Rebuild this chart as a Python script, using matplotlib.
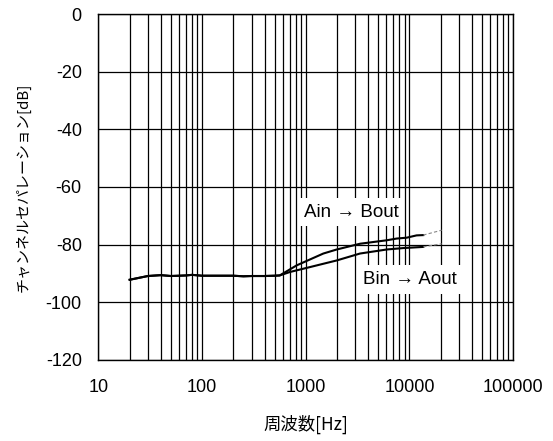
import numpy as np
import matplotlib
matplotlib.use("Agg")
import matplotlib.pyplot as plt
from matplotlib.ticker import LogLocator, NullFormatter, FixedLocator

plt.rcParams['font.family'] = ['Liberation Sans', 'Noto Sans CJK JP', 'DejaVu Sans']

# common flat part (both channels overlap)
freq_low = [20, 30, 40, 50, 60, 70, 80, 100, 150, 200, 250, 300, 400, 500, 560]
db_low = [-92.2, -90.9, -90.6, -90.9, -90.8, -90.7, -90.5, -90.8, -90.8, -90.8, -91.0, -90.9, -90.9, -90.8, -90.7]

# Ain -> Bout
freq_ab = [817, 1475, 1985, 3330, 6020, 7520, 9390, 11700, 13570]
db_ab = [-87.2, -83.1, -81.7, -79.7, -78.5, -77.9, -77.6, -76.8, -76.7]
freq_ab_ext = [13570, 20400]
db_ab_ext = [-76.7, -75.0]

# Bin -> Aout
freq_ba = [704, 1097, 1985, 3330, 6020, 8710, 13570]
db_ba = [-89.5, -87.8, -85.5, -83.1, -81.7, -81.2, -80.8]
freq_ba_ext = [13570, 20400]
db_ba_ext = [-80.8, -79.7]

y_ticks = [0, -20, -40, -60, -80, -100, -120]
x_ticks = [10, 100, 1000, 10000, 100000]

fig = plt.figure(figsize=(5.53, 4.41), dpi=100)
ax = fig.add_axes([0.178, 0.184, 0.750, 0.784])

ax.plot(freq_low + freq_ab, db_low + db_ab, color='black', lw=1.5)
ax.plot(freq_low + freq_ba, db_low + db_ba, color='black', lw=1.5)
ax.plot(freq_ab_ext, db_ab_ext, color='#888888', lw=0.8, ls=(0, (3, 2)))
ax.plot(freq_ba_ext, db_ba_ext, color='#888888', lw=0.8, ls=(0, (3, 2)))

ax.set_xscale('log')
ax.set_xlim(10, 100000)
ax.set_ylim(-120, 0)
ax.xaxis.set_major_locator(FixedLocator(x_ticks))
ax.xaxis.set_minor_locator(LogLocator(base=10, subs=np.arange(2, 10)))
ax.xaxis.set_minor_formatter(NullFormatter())
ax.set_xticklabels([str(t) for t in x_ticks])
ax.set_yticks(y_ticks)
ax.set_yticklabels([str(t) for t in y_ticks])

ax.grid(True, which='major', color='black', lw=0.9)
ax.grid(True, which='minor', axis='x', color='black', lw=0.9)
ax.tick_params(which='both', length=0, labelsize=13)
ax.tick_params(axis='x', pad=14)
ax.tick_params(axis='y', pad=12)
for s in ax.spines.values():
    s.set_linewidth(1.0)

ax.set_xlabel('周波数[Hz]', family=['Noto Sans CJK JP', 'DejaVu Sans'], fontsize=12.5, labelpad=13)
ax.set_ylabel('チャンネルセパレーション[dB]', family=['Noto Sans CJK JP', 'DejaVu Sans'], fontsize=10.8, labelpad=11)

# annotation labels with white background over the grid
box = dict(facecolor='white', edgecolor='none', pad=4)
ax.text(2730, -68.8, 'Ain → Bout', fontsize=13.5, ha='center', va='center', bbox=box, zorder=5)
ax.text(10100, -92.1, 'Bin → Aout', fontsize=13.5, ha='center', va='center', bbox=box, zorder=5)

fig.savefig('out.png', dpi=100)
